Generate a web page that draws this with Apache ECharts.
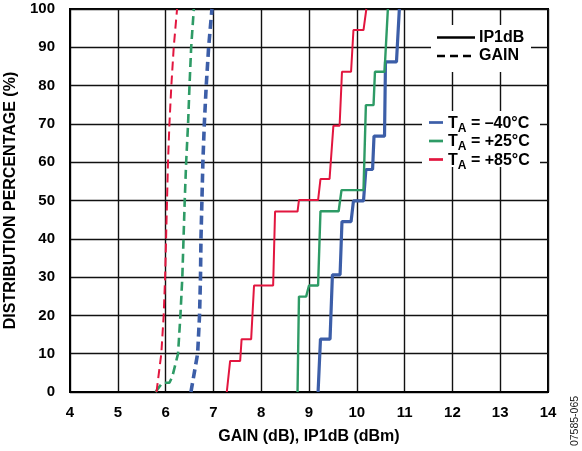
<!DOCTYPE html>
<html><head><meta charset="utf-8">
<script src="https://cdn.jsdelivr.net/npm/echarts@6/dist/echarts.min.js"></script>
<style>html,body{margin:0;padding:0;background:#fff}#c{width:582px;height:451px}</style>
</head><body><div id="c"></div>
<script>
// ---- data ----
const xMin = 4, xMax = 14, xStep = 1;
const yMin = 0, yMax = 100, yStep = 10;

// GAIN (dashed) cumulative distributions
const gainM40X = [6.53, 6.67, 6.71, 6.73, 6.74, 6.76, 6.78, 6.81, 6.85, 6.90, 6.97];
const gainM40Y = [0, 10, 20, 30, 40, 50, 60, 70, 80, 90, 100];
const gainP25X = [5.79, 5.93, 6.08, 6.14, 6.26, 6.31, 6.35, 6.375, 6.40, 6.43, 6.47, 6.50, 6.535, 6.59];
const gainP25Y = [0, 2.4, 2.4, 4, 10, 20, 30, 40, 50, 60, 70, 80, 90, 100];
const gainP85X = [5.81, 5.91, 5.96, 5.99, 6.01, 6.03, 6.05, 6.08, 6.12, 6.17, 6.24];
const gainP85Y = [0, 10, 20, 30, 40, 50, 60, 70, 80, 90, 100];

// IP1dB (solid) cumulative step distributions
const ipM40X = [9.19, 9.24, 9.44, 9.49, 9.65, 9.69, 9.88, 9.93, 10.14, 10.19, 10.33, 10.36, 10.58, 10.60, 10.83, 10.89];
const ipM40Y = [0, 13.8, 13.8, 30.6, 30.6, 44.5, 44.5, 49.9, 49.9, 58.1, 58.1, 66.8, 66.8, 86.2, 86.2, 100];
const ipP25X = [8.76, 8.79, 8.94, 9.00, 9.19, 9.24, 9.62, 9.68, 10.14, 10.19, 10.35, 10.38, 10.58, 10.65];
const ipP25Y = [0, 24.9, 24.9, 27.8, 27.8, 47.2, 47.2, 52.7, 52.7, 74.9, 74.9, 83.6, 83.6, 100];
const ipP85X = [7.28, 7.35, 7.56, 7.59, 7.79, 7.85, 8.25, 8.29, 8.76, 8.79, 9.19, 9.24, 9.43, 9.51, 9.64, 9.69, 9.88, 9.93, 10.14, 10.20];
const ipP85Y = [0, 8.1, 8.1, 13.8, 13.8, 27.8, 27.8, 47.1, 47.1, 50.1, 50.1, 55.6, 55.6, 69.5, 69.5, 83.6, 83.6, 94.5, 94.5, 100];

const styleNames = ['IP1dB', 'GAIN'];
const tempLabels = ['–40°C', '+25°C', '+85°C'];
const tempColors = ['#3c5ea8', '#2e9b66', '#e2163f'];
const xTitle = 'GAIN (dB), IP1dB (dBm)';
const yTitle = 'DISTRIBUTION PERCENTAGE (%)';
const figId = '07585-065';

// ---- chart ----
const FONT = '"Liberation Sans", Arial, Helvetica, sans-serif';
const pairs = (xs, ys) => xs.map((x, i) => [x, ys[i]]);
const solidW = [3.2, 2.4, 2.0];
const dashW = [3.6, 2.6, 2.0];

function lineSeries(name, xs, ys, color, width, dashed) {
  return {
    name, type: 'line', data: pairs(xs, ys), showSymbol: false, symbol: 'none',
    lineStyle: { color, width, type: dashed ? [9, 5] : 'solid', cap: 'butt' },
    emphasis: { disabled: true }, silent: true, z: 3, clip: true
  };
}

const series = [
  lineSeries('GAIN -40', gainM40X, gainM40Y, tempColors[0], dashW[0], true),
  lineSeries('GAIN +25', gainP25X, gainP25Y, tempColors[1], dashW[1], true),
  lineSeries('GAIN +85', gainP85X, gainP85Y, tempColors[2], dashW[2], true),
  lineSeries('IP1dB -40', ipM40X, ipM40Y, tempColors[0], solidW[0], false),
  lineSeries('IP1dB +25', ipP25X, ipP25Y, tempColors[1], solidW[1], false),
  lineSeries('IP1dB +85', ipP85X, ipP85Y, tempColors[2], solidW[2], false)
];

const graphics = [];
// legend box 1
graphics.push({ type: 'rect', shape: { x: 431, y: 25, width: 100, height: 47 }, style: { fill: '#fff' }, z: 100 });
graphics.push({ type: 'line', shape: { x1: 437, y1: 37.5, x2: 475, y2: 37.5 }, style: { stroke: '#000', lineWidth: 2.7 }, z: 101 });
graphics.push({ type: 'line', shape: { x1: 437, y1: 56, x2: 476, y2: 56 }, style: { stroke: '#000', lineWidth: 2.7, lineDash: [8, 5] }, z: 101 });
styleNames.forEach((n, i) => {
  graphics.push({ type: 'text', x: 479, y: i === 0 ? 37.5 : 56, z: 101,
    style: { text: n, font: 'bold 16px ' + FONT, fill: '#000', verticalAlign: 'middle', align: 'left' } });
});
// legend box 2
graphics.push({ type: 'rect', shape: { x: 422, y: 111, width: 118, height: 56 }, style: { fill: '#fff' }, z: 100 });
const rowY = [123.5, 142, 160.5];
tempLabels.forEach((t, i) => {
  graphics.push({ type: 'line', shape: { x1: 429, y1: rowY[i] - 1, x2: 443, y2: rowY[i] - 1 }, style: { stroke: tempColors[i], lineWidth: 2.7 }, z: 101 });
  graphics.push({ type: 'text', x: 448, y: rowY[i] - 8, z: 101,
    style: {
      text: '{t|T}{s|A}{t| = ' + t + '}', align: 'left', verticalAlign: 'top',
      rich: {
        t: { fontFamily: FONT, fontWeight: 'bold', fontSize: 16, height: 16, verticalAlign: 'top', fill: '#000', color: '#000' },
        s: { fontFamily: FONT, fontWeight: 'bold', fontSize: 12, height: 12, padding: [7, 0, 0, 0], verticalAlign: 'top', fill: '#000', color: '#000' }
      }
    } });
});
// figure id
graphics.push({ type: 'text', x: 575, y: 421, rotation: Math.PI / 2, z: 101,
  style: { text: figId, font: '10.5px ' + FONT, fill: '#222', align: 'center', verticalAlign: 'middle' } });

const chart = echarts.init(document.getElementById('c'), null, { renderer: 'canvas' });
chart.setOption({
  animation: false,
  backgroundColor: '#fff',
  grid: { left: 70, right: 34, top: 9, bottom: 59, containLabel: false, outerBoundsMode: 'none',
    show: true, borderColor: '#000', borderWidth: 2, backgroundColor: 'transparent' },
  xAxis: {
    type: 'value', min: xMin, max: xMax, interval: xStep,
    name: xTitle, nameLocation: 'middle', nameGap: 37,
    nameTextStyle: { fontFamily: FONT, fontWeight: 'bold', fontSize: 16, color: '#000' },
    axisLine: { show: true, lineStyle: { color: '#000', width: 2 } },
    axisTick: { show: false },
    axisLabel: { fontFamily: FONT, fontWeight: 'bold', fontSize: 15, color: '#000', margin: 13 },
    splitLine: { show: true, lineStyle: { color: '#111', width: 1.4 } }
  },
  yAxis: {
    type: 'value', min: yMin, max: yMax, interval: yStep,
    name: yTitle, nameLocation: 'middle', nameGap: 50, nameRotate: 90,
    nameTextStyle: { fontFamily: FONT, fontWeight: 'bold', fontSize: 16, color: '#000' },
    axisLine: { show: true, lineStyle: { color: '#000', width: 2 } },
    axisTick: { show: false },
    axisLabel: { fontFamily: FONT, fontWeight: 'bold', fontSize: 15, color: '#000', margin: 15 },
    splitLine: { show: true, lineStyle: { color: '#111', width: 1.4 } }
  },
  series,
  graphic: graphics
});
</script></body></html>
